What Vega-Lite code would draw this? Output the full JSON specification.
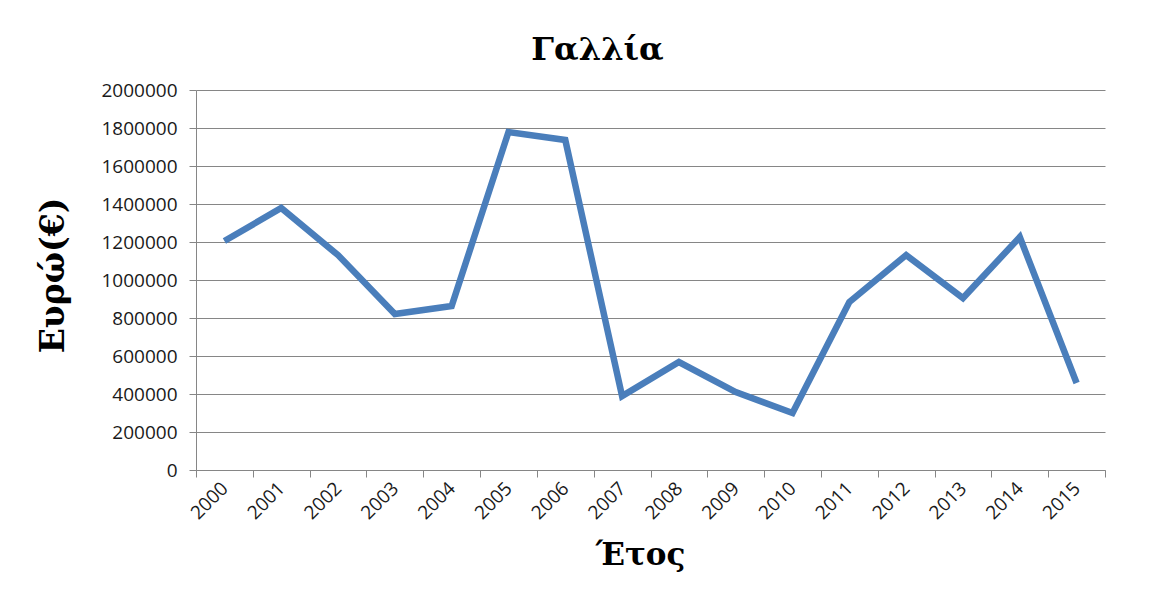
{
  "$schema": "https://vega.github.io/schema/vega-lite/v6.json",
  "width": 909,
  "height": 380,
  "autosize": {"type": "none"},
  "padding": {"left": 196, "top": 90, "right": 46, "bottom": 137},
  "background": "white",
  "title": {
    "text": "Γαλλία",
    "font": "DejaVu Serif",
    "fontSize": 32,
    "fontWeight": "bold",
    "color": "#000000",
    "anchor": "middle",
    "dx": -53,
    "offset": 14
  },
  "data": {
    "values": [
      {"year": "2000", "value": 1205000},
      {"year": "2001", "value": 1379000},
      {"year": "2002", "value": 1131000},
      {"year": "2003", "value": 821000},
      {"year": "2004", "value": 863000},
      {"year": "2005", "value": 1779000},
      {"year": "2006", "value": 1737000},
      {"year": "2007", "value": 389000},
      {"year": "2008", "value": 568000},
      {"year": "2009", "value": 410000},
      {"year": "2010", "value": 300000},
      {"year": "2011", "value": 884000},
      {"year": "2012", "value": 1131000},
      {"year": "2013", "value": 905000},
      {"year": "2014", "value": 1226000},
      {"year": "2015", "value": 458000}
    ]
  },
  "mark": {"type": "line", "color": "#4a7ebb", "strokeWidth": 6.5, "strokeJoin": "miter"},
  "encoding": {
    "x": {
      "field": "year",
      "type": "ordinal",
      "scale": {"type": "band", "paddingInner": 0, "paddingOuter": 0},
      "axis": {
        "title": "Έτος",
        "titleFont": "DejaVu Serif",
        "titleFontSize": 31,
        "titleFontWeight": "bold",
        "titleColor": "#000000",
        "titleBaseline": "middle",
        "titleY": 85,
        "titleX": 444,
        "labelAngle": -45,
        "labelAlign": "right",
        "labelBaseline": "middle",
        "labelPadding": 8,
        "labelFont": "Open Sans",
        "labelFontSize": 19,
        "labelColor": "#1a1a1a",
        "tickBand": "extent",
        "tickSize": 7,
        "tickColor": "#868686",
        "domainColor": "#868686",
        "grid": false
      }
    },
    "y": {
      "field": "value",
      "type": "quantitative",
      "scale": {"domain": [0, 2000000], "nice": false},
      "axis": {
        "title": "Ευρώ(€)",
        "titleFont": "DejaVu Serif",
        "titleFontSize": 33,
        "titleFontWeight": "bold",
        "titleColor": "#000000",
        "titleAngle": -90,
        "titleAlign": "center",
        "titleBaseline": "middle",
        "titleX": -143,
        "titleY": 185,
        "values": [0, 200000, 400000, 600000, 800000, 1000000, 1200000, 1400000, 1600000, 1800000, 2000000],
        "format": "d",
        "labelFont": "Open Sans",
        "labelFontSize": 19,
        "labelColor": "#1a1a1a",
        "labelPadding": 12,
        "tickSize": 7,
        "tickColor": "#868686",
        "domainColor": "#868686",
        "gridColor": "#868686",
        "gridWidth": 1
      }
    }
  },
  "config": {
    "view": {"stroke": null}
  }
}
